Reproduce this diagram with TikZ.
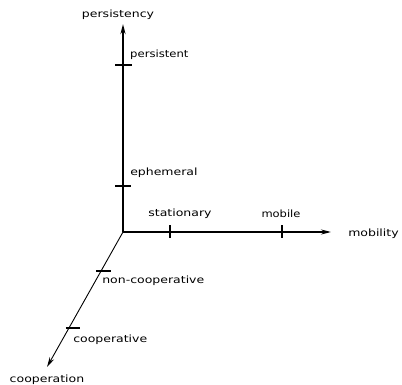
\documentclass[tikz,border=0pt]{standalone}
\usepackage{fontspec}
\setmainfont{DejaVu Sans}
\usetikzlibrary{arrows.meta,calc}
\begin{document}
\begin{tikzpicture}[x=1pt,y=-1pt,
  tip/.style={-{Stealth[length=10pt,width=5pt]}},
  tick/.style={line width=1.1pt},
  lbl/.style={font=\fontsize{10}{11}\selectfont,inner sep=0pt,xscale=1.25}]
\useasboundingbox (0,0) rectangle (402,385);
% origin and axis ends
\coordinate (o) at (123,232);
\coordinate (ytop) at (123,24);
\coordinate (xend) at (331,232);
\coordinate (zend) at (47,367);
\draw[tip,line width=1.8pt] (o) -- (ytop);
\draw[tip,line width=1.3pt] (o) -- (xend);
\draw[tip,line width=0.9pt] (o) -- (zend);
% tick marks
\coordinate (tp) at (123,65);
\coordinate (te) at (123,186);
\coordinate (ts) at (170,232);
\coordinate (tm) at (282,232);
\coordinate (tn) at ($(o)!0.289!(zend)$);
\coordinate (tc) at ($(o)!0.711!(zend)$);
\draw[tick] ([xshift=-8pt]tp) -- ([xshift=9pt]tp);
\draw[tick] ([xshift=-8pt]te) -- ([xshift=8pt]te);
\draw[tick] ([yshift=-6pt]ts) -- ([yshift=7pt]ts);
\draw[tick] ([yshift=-6pt]tm) -- ([yshift=7pt]tm);
\draw[tick] ([xshift=-5pt]tn) -- ([xshift=10pt]tn);
\draw[tick] ([xshift=-3pt]tc) -- ([xshift=11pt]tc);
% labels
\node[lbl] (lpy) at (118,15) {persistency};
\node[lbl,anchor=west,xscale=0.93] (lpt) at (130,55) {persistent};
\node[lbl,anchor=west] (leph) at (130,173) {ephemeral};
\node[lbl] (lst) at (180,214) {stationary};
\node[lbl,xscale=0.92] (lmo) at (281,214) {mobile};
\node[lbl,anchor=west] (lmy) at (348,234) {mobility};
\node[lbl,anchor=west] (lnc) at (102,281) {non-cooperative};
\node[lbl,anchor=west] (lco) at (73,340) {cooperative};
\node[lbl] (lcn) at (47,380) {cooperation};
\end{tikzpicture}
\end{document}
